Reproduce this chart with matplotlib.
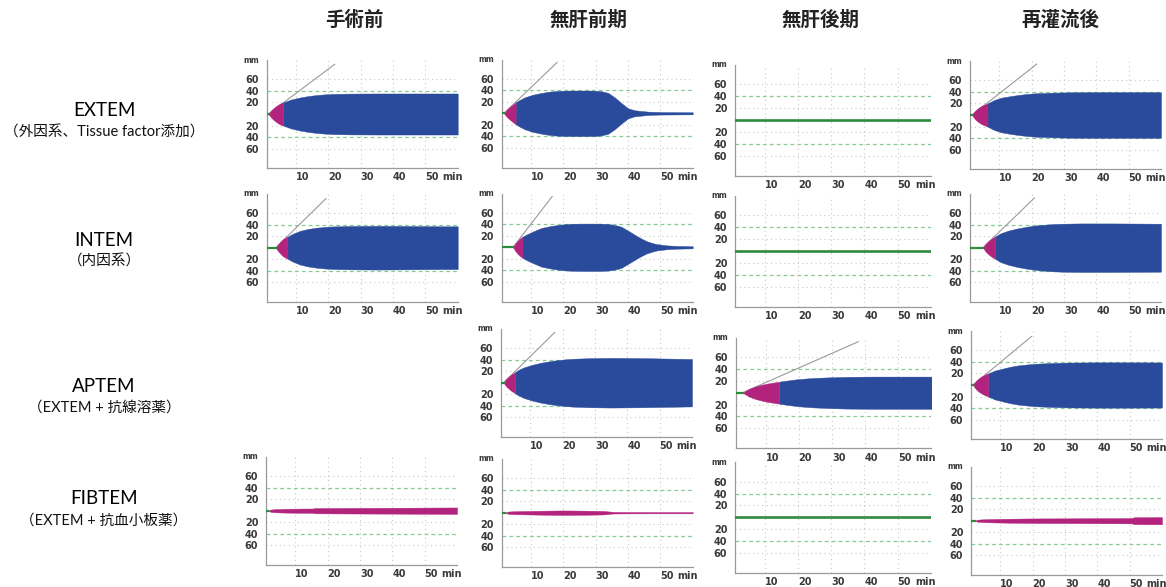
import numpy as np
import matplotlib
matplotlib.use("Agg")
import matplotlib.pyplot as plt

W, H = 1166, 587

# 列見出しと行ラベル
COLUMNS = ["手術前", "無肝前期", "無肝後期", "再灌流後"]
ROW_NAMES = ["EXTEM", "INTEM", "APTEM", "FIBTEM"]
ROW_NOTES = ["（外因系、Tissue factor添加）", "（内因系）",
             "（EXTEM + 抗線溶薬）", "（EXTEM + 抗血小板薬）"]

Y_TICKS = [60, 40, 20, -20, -40, -60]
Y_TICK_LABELS = ["60", "40", "20", "20", "40", "60"]
X_TICKS = [10, 20, 30, 40, 50]

# 各トレース: CT(分), 時間, 振幅(片側), CFT終了時刻, αアングル線の終点
ext_pre_ct = 1.5
ext_pre_t = [1.5, 2.5, 3.5, 4.5, 5.3, 6.1, 8.5, 11.2, 13.8, 16.4, 19.0, 21.5, 26.7, 35, 45, 60]
ext_pre_a = [0, 7, 12, 16, 18.5, 20, 25, 28.5, 31, 32.8, 34, 34.8, 35.3, 35.5, 35.5, 35.5]
ext_pre_cft = 6.1
ext_pre_alpha = (22.0, 86)

ext_anh1_ct = 1.7
ext_anh1_t = [1.7, 2.6, 3.5, 4.4, 5.3, 6.5, 8.1, 10.5, 13.3, 15.8, 18.4, 21.0, 23.6, 28.0,
              30.5, 32.0, 33.9, 35.9, 38.0, 40.0, 42.0, 44.0, 46.2, 50.0, 60.0]
ext_anh1_a = [0, 6.5, 11, 15, 18.8, 23, 27.6, 32, 35.3, 37.5, 38.8, 39.3, 39.4, 39.4,
              39, 38, 35.3, 27.6, 17.6, 8.8, 5.3, 4.1, 2.9, 2.2, 1.8]
ext_anh1_cft = 5.3
ext_anh1_alpha = (18.1, 88)

ext_rep_ct = 1.6
ext_rep_t = [1.6, 2.5, 3.5, 4.5, 5.5, 6.4, 8.5, 10.7, 13.3, 15.9, 18.5, 21.1, 26.3, 32, 40, 60]
ext_rep_a = [0, 7, 12, 15.5, 18, 20, 26, 30, 32.5, 34.6, 36.3, 37.5, 38.6, 39.3, 39.5, 39.5]
ext_rep_cft = 6.4
ext_rep_alpha = (21.6, 88)

int_pre_ct = 3.8
int_pre_t = [3.8, 4.6, 5.4, 6.2, 7.4, 9.0, 11.2, 13.8, 16.4, 19.0, 21.5, 26.7, 35, 45, 55, 60]
int_pre_a = [0, 6.5, 11.5, 15.5, 19, 24, 29, 32.5, 34.6, 36, 36.8, 37.5, 37.8, 37.5, 37, 37]
int_pre_cft = 7.4
int_pre_alpha = (19.3, 85)

int_anh1_ct = 4.5
int_anh1_t = [4.5, 5.2, 5.9, 6.6, 7.4, 8.8, 10.7, 13.3, 15.9, 18.5, 21.0, 23.5, 26.1, 31.3,
              34.0, 36.4, 38.0, 39.5, 41.0, 42.6, 44.2, 45.7, 47.3, 48.8, 51.9, 55.0, 60.0]
int_anh1_a = [0, 6.5, 11, 15, 18.2, 22.5, 27.5, 33.5, 36.5, 38.8, 40.2, 40.8, 41, 41,
              40.3, 38, 35.5, 30.5, 25.5, 20, 15, 10.8, 7.8, 5.6, 3.4, 2.4, 1.8]
int_anh1_cft = 7.4
int_anh1_alpha = (16.6, 88)

int_rep_ct = 5.0
int_rep_t = [5.0, 5.8, 6.7, 7.6, 8.65, 10.5, 12.8, 15.4, 18.0, 20.6, 23.2, 26.3, 29.4, 35, 45, 60]
int_rep_a = [0, 6.5, 11.5, 15.5, 19, 25, 29.5, 33, 35.8, 38, 39.5, 40.8, 41.5, 42, 42, 41.5]
int_rep_cft = 8.65
int_rep_alpha = (20.9, 86)

apt_anh1_ct = 1.8
apt_anh1_t = [1.8, 2.6, 3.5, 4.4, 5.3, 6.5, 8.1, 10.7, 13.3, 15.9, 18.4, 21, 23.6, 28.7, 35, 45, 55, 60]
apt_anh1_a = [0, 6.5, 11, 15, 18, 22.5, 26.5, 31, 34.5, 37, 39, 40.5, 41.5, 42.5, 43, 42.5, 41.5, 41]
apt_anh1_cft = 5.3
apt_anh1_alpha = (17.6, 87)

apt_anh2_ct = 3.1
apt_anh2_t = [3.1, 5.0, 6.9, 8.7, 10.5, 12.3, 14.1, 16.5, 19.2, 21.8, 24.3, 29.4, 34.5, 42.6, 60]
apt_anh2_a = [0, 6.5, 10.5, 13.2, 15.4, 17.0, 18.5, 20.5, 22.5, 23.8, 24.8, 26, 26.8, 27.2, 27.2]
apt_anh2_cft = 14.1
apt_anh2_alpha = (37.9, 86)

apt_rep_ct = 1.6
apt_rep_t = [1.6, 2.5, 3.5, 4.5, 5.4, 6.3, 8.4, 10.5, 13.1, 15.7, 18.3, 20.9, 26.0, 31.2, 40, 50, 60]
apt_rep_a = [0, 7, 12, 15.5, 18, 20, 25, 28, 31.5, 34, 35.5, 36.8, 38, 38.8, 39.2, 39.2, 39]
apt_rep_cft = 6.3
apt_rep_alpha = (19.7, 84)

fib_pre_ct = 1.5
fib_pre_t = [1.5, 2.5, 4.0, 7.0, 11.0, 15.5, 16.0, 25.0, 35.0, 45.0, 55.0, 60.0]
fib_pre_a = [0, 2.0, 2.8, 3.3, 3.6, 3.8, 4.5, 4.8, 5.0, 5.2, 5.5, 5.6]

fib_anh1_ct = 2.0
fib_anh1_t = [2.0, 3.0, 5.0, 9.0, 14.0, 20.0, 26.0, 30.0, 32.5, 34.0, 35.5, 40.0, 50.0, 60.0]
fib_anh1_a = [0, 2.0, 2.6, 3.0, 3.5, 3.9, 3.6, 3.3, 3.0, 2.2, 1.4, 1.2, 1.1, 1.1]

fib_rep_ct = 2.1
fib_rep_t = [2.1, 3.0, 5.0, 8.0, 12.0, 20.0, 30.0, 40.0, 50.5, 51.5, 60.0]
fib_rep_a = [0, 1.8, 2.5, 3.0, 3.4, 3.9, 4.1, 4.4, 4.6, 6.0, 6.2]

# 凝固しないトレースは緑の直線のみ
FLAT = None

TRACES = {
    (0, 0): (ext_pre_ct, ext_pre_t, ext_pre_a, ext_pre_cft, ext_pre_alpha),
    (0, 1): (ext_anh1_ct, ext_anh1_t, ext_anh1_a, ext_anh1_cft, ext_anh1_alpha),
    (0, 2): FLAT,
    (0, 3): (ext_rep_ct, ext_rep_t, ext_rep_a, ext_rep_cft, ext_rep_alpha),
    (1, 0): (int_pre_ct, int_pre_t, int_pre_a, int_pre_cft, int_pre_alpha),
    (1, 1): (int_anh1_ct, int_anh1_t, int_anh1_a, int_anh1_cft, int_anh1_alpha),
    (1, 2): FLAT,
    (1, 3): (int_rep_ct, int_rep_t, int_rep_a, int_rep_cft, int_rep_alpha),
    (2, 1): (apt_anh1_ct, apt_anh1_t, apt_anh1_a, apt_anh1_cft, apt_anh1_alpha),
    (2, 2): (apt_anh2_ct, apt_anh2_t, apt_anh2_a, apt_anh2_cft, apt_anh2_alpha),
    (2, 3): (apt_rep_ct, apt_rep_t, apt_rep_a, apt_rep_cft, apt_rep_alpha),
    (3, 0): (fib_pre_ct, fib_pre_t, fib_pre_a, None, None),
    (3, 1): (fib_anh1_ct, fib_anh1_t, fib_anh1_a, None, None),
    (3, 2): FLAT,
    (3, 3): (fib_rep_ct, fib_rep_t, fib_rep_a, None, None),
}

# パネル配置 (縦軸のx位置px, 基線のy位置px, 拡大率)
LAYOUT = {
    (0, 0): (266.7, 114.0, 1.0), (0, 1): (501.7, 113.3, 1.0),
    (0, 2): (735.0, 120.0, 1.025), (0, 3): (970.0, 115.0, 1.0),
    (1, 0): (266.7, 247.7, 1.0), (1, 1): (501.7, 247.3, 1.0),
    (1, 2): (735.0, 251.0, 1.025), (1, 3): (970.0, 247.7, 1.0),
    (2, 1): (501.0, 382.7, 1.0), (2, 2): (735.7, 392.7, 1.025),
    (2, 3): (971.0, 385.0, 1.0),
    (3, 0): (266.0, 510.7, 1.0), (3, 1): (501.7, 512.7, 1.0),
    (3, 2): (735.0, 517.3, 1.025), (3, 3): (971.0, 520.7, 1.0),
}
COL_X = [354, 589, 821, 1060]
ROW_Y = [(110, 133), (240, 262), (386, 408), (499, 521)]

XMIN, XMAX = 1.0, 60.0
YMIN, YMAX = -94, 93
PX_PER_MIN = 191 / (XMAX - XMIN)
PX_PER_UNIT = 0.578

BLUE = "#2A4A9C"
MAGENTA = "#B2237E"
GREEN = "#2E8B3E"
DASH_GREEN = "#86C994"
GRID = "#C9C9C9"
ALPHA_GRAY = "#9A9A9A"
TEXT = "#3A3A3A"
JP = ["Noto Sans CJK JP", "DejaVu Sans"]
LABEL = ["Lato", "Noto Sans CJK JP", "DejaVu Sans"]


def panel_axes(fig, spine_x, center_y, scale):
    w = (XMAX - XMIN) * PX_PER_MIN * scale
    top = center_y - YMAX * PX_PER_UNIT * scale
    bot = center_y - YMIN * PX_PER_UNIT * scale
    return fig.add_axes([spine_x / W, 1 - bot / H, w / W, (bot - top) / H])


def style_panel(ax):
    ax.set_xlim(XMIN, XMAX)
    ax.set_ylim(YMIN, YMAX)
    for s in ("top", "right"):
        ax.spines[s].set_visible(False)
    for s in ("left", "bottom"):
        ax.spines[s].set_color("#9A9A9A")
        ax.spines[s].set_linewidth(0.9)
    for y in (20, 60, -20, -60):
        ax.axhline(y, color=GRID, lw=0.8, ls=(0, (1, 3)), zorder=0)
    for y in (40, -40):
        ax.axhline(y, color=DASH_GREEN, lw=0.9, ls=(0, (3, 2.5)), zorder=0)
    for x in X_TICKS:
        ax.axvline(x, color=GRID, lw=0.8, ls=(0, (1, 3)), zorder=0)

    ax.set_yticks(Y_TICKS)
    ax.set_yticklabels(Y_TICK_LABELS)
    ax.set_xticks(X_TICKS)
    ax.set_xticklabels([str(x) for x in X_TICKS])
    for lab in ax.get_xticklabels():
        lab.set_horizontalalignment("left")
    ax.tick_params(length=0, labelsize=7, labelcolor=TEXT)
    ax.tick_params(axis="y", pad=5.5)
    ax.tick_params(axis="x", pad=3)
    for lab in ax.get_xticklabels() + ax.get_yticklabels():
        lab.set_fontweight("bold")
    ax.annotate("min", xy=(55.2, 0), xycoords=("data", "axes fraction"),
                xytext=(0, -3), textcoords="offset points", ha="left", va="top",
                fontsize=7, fontweight="bold", color=TEXT)
    ax.annotate("mm", xy=(0, 1), xycoords="axes fraction", xytext=(-5.5, 0),
                textcoords="offset points", ha="right", va="center",
                fontsize=5.5, fontweight="bold", color=TEXT)


def draw_trace(ax, trace):
    if trace is None:
        ax.plot([XMIN, XMAX], [0, 0], color=GREEN, lw=1.9, zorder=3)
        return
    ct, t, a, cft_end, alpha_end = trace
    t = np.asarray(t, dtype=float)
    a = np.asarray(a, dtype=float)
    ax.plot([XMIN, ct], [0, 0], color=GREEN, lw=1.6, zorder=3)
    if alpha_end is not None:
        ax.plot([ct, alpha_end[0]], [0, alpha_end[1]], color=ALPHA_GRAY, lw=0.8, zorder=1)
    if cft_end is None:
        ax.fill_between(t, -a, a, color=MAGENTA, lw=0.3, zorder=2)
        return
    m = t <= cft_end
    b = t >= cft_end
    ax.fill_between(t[b], -a[b], a[b], color=BLUE, lw=0.3, zorder=2)
    ax.fill_between(t[m], -a[m], a[m], color=MAGENTA, lw=0.3, zorder=2)


fig = plt.figure(figsize=(W / 100, H / 100), dpi=100)

for key, (sx, cy, sc) in LAYOUT.items():
    ax = panel_axes(fig, sx, cy, sc)
    style_panel(ax)
    draw_trace(ax, TRACES[key])

for name, x in zip(COLUMNS, COL_X):
    fig.text(x / W, 1 - 20 / H, name, ha="center", va="center",
             fontsize=14, fontweight="bold", family=JP, color="#222222")

for name, note, (y1, y2) in zip(ROW_NAMES, ROW_NOTES, ROW_Y):
    fig.text(104 / W, 1 - y1 / H, name, ha="center", va="center",
             fontsize=13.5, family=LABEL, color="#000000")
    fig.text(104 / W, 1 - y2 / H, note, ha="center", va="center",
             fontsize=10.5, family=LABEL, color="#111111")

fig.savefig("out.png", dpi=100)
plt.close(fig)
